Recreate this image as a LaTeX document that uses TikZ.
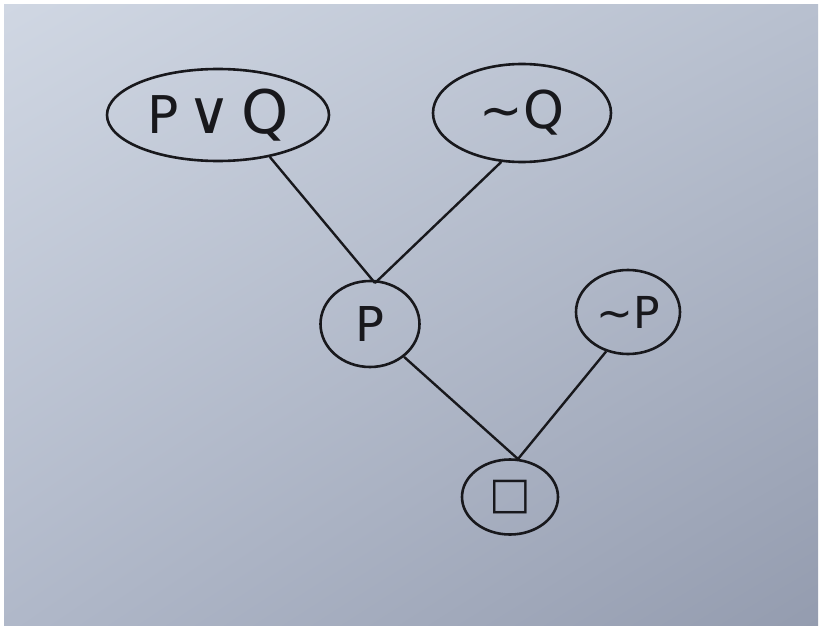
\documentclass[tikz,border=0pt]{standalone}
\usepackage{fontspec}
\setmainfont{DejaVu Sans}
\usetikzlibrary{shapes.geometric,shadings}
\definecolor{paperUL}{RGB}{208,215,227}
\definecolor{paperUR}{RGB}{184,192,207}
\definecolor{paperLL}{RGB}{176,184,201}
\definecolor{paperLR}{RGB}{148,156,175}
\definecolor{ink}{RGB}{24,24,28}
\begin{document}
\begin{tikzpicture}[x=1pt,y=-1pt,
  blob/.style={draw=ink, line width=2.6pt, ellipse, inner sep=0pt, text=ink},
  edge/.style={draw=ink, line width=2.4pt}]
\useasboundingbox (0,0) rectangle (822,626);
\fill[white] (0,0) rectangle (822,626);
\shade[upper left=paperUL, upper right=paperUR, lower left=paperLL, lower right=paperLR] (4,5) rectangle (818,626);
\node[blob, minimum width=222pt, minimum height=92pt, font=\fontsize{52}{52}\selectfont] (pq) at (218,115) {P\,\fontsize{60}{60}\selectfont∨\,Q};
\node[blob, minimum width=178pt, minimum height=98pt, font=\fontsize{52}{52}\selectfont] (nq) at (522,113) {∼Q};
\node[blob, minimum width=99pt, minimum height=86pt, font=\fontsize{48}{48}\selectfont] (p) at (370,324) {P};
\node[blob, minimum width=104pt, minimum height=84pt, font=\fontsize{44}{44}\selectfont] (np) at (628,312) {∼P};
\node[blob, minimum width=96pt, minimum height=75pt, font=\fontsize{44}{44}\selectfont] (box) at (510,497) {□};
\coordinate (j1) at (375,283);
\coordinate (j2) at (518,459);
\draw[edge] (pq.-39) -- (j1);
\draw[edge] (nq.-113) -- (j1);
\draw[edge] (p.-44) -- (j2);
\draw[edge] (np.-119) -- (j2);
\end{tikzpicture}
\end{document}
